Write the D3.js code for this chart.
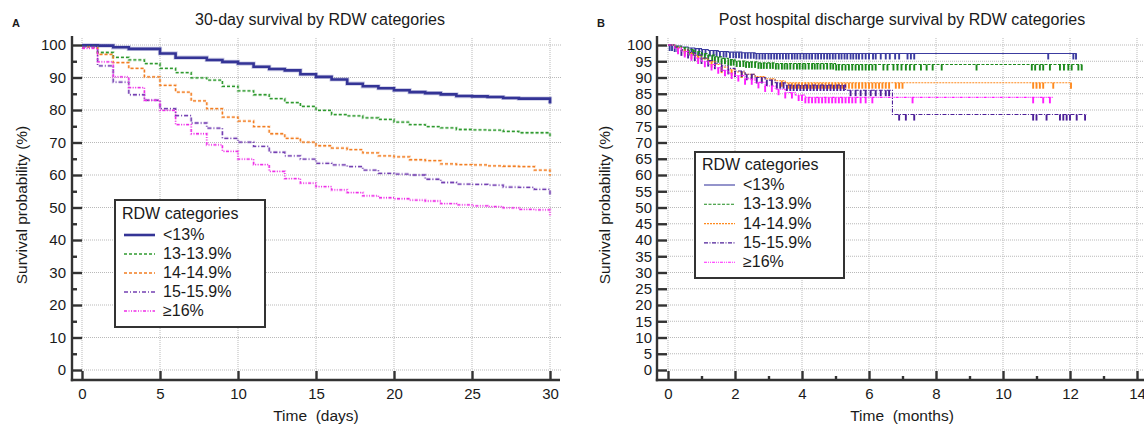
<!DOCTYPE html>
<html><head><meta charset="utf-8">
<script src="https://cdn.jsdelivr.net/npm/d3@7"></script>
<style>
html,body{margin:0;padding:0;background:#fff;}
svg{display:block;font-family:"Liberation Sans",Arial,sans-serif;}
</style></head><body>
<svg id="c" width="1144" height="424"></svg>
<script>
// ---------- DATA ----------
const seriesNames = ["<13%", "13-13.9%", "14-14.9%", "15-15.9%", "\u226516%"];

// Panel A: 30-day survival (%), value holding from day i to day i+1; last entry = value at day 30
const daysA = [0,1,2,3,4,5,6,7,8,9,10,11,12,13,14,15,16,17,18,19,20,21,22,23,24,25,26,27,28,29,30];
const survA_lt13   = [99.9,99.8,99.3,98.8,98.8,97.4,96.1,96.1,95.4,94.8,94.3,93.3,92.6,92.2,91.0,90.2,89.4,88.1,87.3,86.7,86.1,85.5,85.2,84.8,84.3,84.2,84.0,83.7,83.5,83.5,82.0];
const survA_13     = [99.6,97.7,96.2,95.4,94.3,92.8,91.5,89.9,89.2,87.3,85.9,84.7,83.5,82.3,81.1,79.9,78.6,78.2,77.6,77.1,76.3,75.5,74.9,74.5,74.0,73.9,73.8,73.4,73.0,73.0,71.3];
const survA_14     = [99.4,97.1,94.6,92.8,90.2,87.6,85.5,82.8,80.4,77.8,76.6,74.9,72.7,71.3,70.1,69.0,68.3,67.8,66.8,65.9,65.6,64.7,64.4,63.4,63.2,63.1,62.8,62.7,62.6,61.5,59.8];
const survA_15     = [99.5,93.6,88.6,84.7,83.0,80.4,78.3,76.0,74.4,71.3,70.1,68.8,67.0,65.9,64.9,63.6,63.1,62.6,61.5,60.5,60.3,60.0,58.7,57.7,57.2,57.1,56.9,56.3,56.2,55.6,53.9];
const survA_16     = [99.0,94.8,90.2,86.9,83.0,79.9,75.5,72.7,69.3,67.3,64.9,63.2,61.1,58.9,57.5,56.4,55.4,54.6,53.6,53.0,52.7,52.3,52.0,51.2,50.8,50.5,50.3,49.9,49.4,49.3,47.6];
const xTicksA = [0,5,10,15,20,25,30];
const yTicksA = [0,10,20,30,40,50,60,70,80,90,100];
const yMinorA = [5,15,25,35,45,55,65,75,85,95];

// Panel B: post-discharge survival, step points [month, %], end time, censored times (months)
const stepsB_lt13 = [[0,100],[0.2,99.7],[0.4,99.4],[0.6,99.1],[0.8,98.9],[1.0,98.6],[1.2,98.3],[1.5,98.0],[1.8,97.8],[2.2,97.6],[2.6,97.4]];
const stepsB_13   = [[0,100],[0.2,99.6],[0.4,99.2],[0.6,98.6],[0.8,98.0],[1.0,97.4],[1.2,96.9],[1.4,96.4],[1.6,95.9],[1.8,95.5],[2.0,95.1],[2.3,94.8],[2.7,94.5],[3.2,94.3],[5.0,94.0]];
const stepsB_14   = [[0,100],[0.2,99.3],[0.4,98.5],[0.6,97.6],[0.8,96.7],[1.0,95.8],[1.2,94.9],[1.4,94.0],[1.6,93.2],[1.8,92.4],[2.0,91.7],[2.3,91.0],[2.6,90.3],[2.9,89.6],[3.2,89.0],[3.5,88.4]];
const stepsB_15   = [[0,100],[0.2,99.3],[0.4,98.5],[0.6,97.7],[0.8,96.9],[1.0,96.0],[1.2,95.2],[1.4,94.4],[1.6,93.6],[1.8,92.8],[2.0,92.0],[2.3,91.0],[2.6,90.0],[2.9,89.2],[3.2,88.4],[3.5,87.7],[5.3,86.1],[6.7,78.6]];
const stepsB_16   = [[0,100],[0.2,99.0],[0.4,98.0],[0.6,97.0],[0.8,96.0],[1.0,95.0],[1.2,94.0],[1.4,93.0],[1.6,92.2],[1.8,91.4],[2.0,90.6],[2.3,89.6],[2.6,88.5],[2.9,87.4],[3.2,86.4],[3.5,85.4],[3.8,84.6],[4.1,83.9]];
const endB = [12.2, 12.35, 12.05, 12.5, 11.5];
const censB_lt13 = [0.05,0.12,0.2,0.28,0.7,0.82,0.93,1.02,1.12,1.25,1.36,1.45,1.55,1.66,1.74,1.85,1.95,2.03,2.12,2.2,2.3,2.38,2.47,2.56,2.64,2.73,2.82,2.9,3.0,3.08,3.17,3.25,3.34,3.43,3.52,3.6,3.7,3.78,3.86,3.95,4.05,4.13,4.22,4.3,4.4,4.48,4.57,4.66,4.75,4.83,4.92,5.0,5.1,5.18,5.27,5.35,5.45,5.53,5.62,5.7,5.8,5.9,6.0,6.12,6.2,6.35,6.5,6.62,6.78,6.9,7.15,7.25,7.35,11.35,12.1,12.18];
const censB_13 = [0.5,0.62,0.75,0.9,1.0,1.1,1.2,1.32,1.4,1.5,1.6,1.7,1.8,1.88,1.96,2.05,2.15,2.25,2.33,2.42,2.5,2.6,2.7,2.78,2.86,2.95,3.05,3.13,3.22,3.3,3.4,3.48,3.56,3.65,3.75,3.85,3.93,4.02,4.1,4.2,4.3,4.38,4.46,4.55,4.65,4.75,4.85,4.93,5.02,5.1,5.2,5.3,5.4,5.5,5.6,5.7,5.8,5.9,6.0,6.1,6.2,6.43,6.55,6.73,6.85,6.97,7.1,7.22,7.35,7.55,7.72,7.9,8.17,9.21,10.86,10.96,11.1,11.2,11.4,11.7,11.82,11.95,12.05,12.25,12.35];
const censB_14 = [0.3,0.5,0.7,0.9,1.3,1.6,1.9,2.2,2.5,2.8,3.1,3.4,3.6,3.7,3.8,3.9,4.0,4.1,4.2,4.3,4.4,4.5,4.6,4.7,4.8,4.9,5.0,5.1,5.2,5.3,5.4,5.5,5.6,5.7,5.8,5.9,6.0,6.1,6.2,6.3,6.4,6.5,6.6,6.8,6.9,7.0,10.9,11.0,11.1,11.2,11.5,12.03];
const censB_15 = [0.4,0.6,0.8,1.0,1.2,1.4,1.6,1.8,2.0,2.2,2.35,2.5,2.65,2.8,2.95,3.1,3.25,3.35,3.45,3.55,3.65,3.75,3.85,3.95,4.05,4.15,4.25,4.35,4.45,4.55,4.65,4.75,4.85,4.95,5.05,5.15,5.25,5.45,5.6,5.75,5.9,6.05,6.2,6.35,6.5,6.6,6.9,7.1,7.35,10.9,11.0,11.3,11.7,11.8,11.9,12.0,12.2,12.45];
const censB_16 = [0.3,0.5,0.7,0.9,1.1,1.3,1.5,1.7,1.9,2.1,2.3,2.5,2.7,2.9,3.1,3.3,3.5,3.7,3.9,4.0,4.1,4.2,4.3,4.4,4.5,4.6,4.7,4.8,4.9,5.0,5.1,5.2,5.3,5.4,5.5,5.6,5.75,5.9,6.1,7.3,10.9,11.2,11.4];
const xTicksB = [0,2,4,6,8,10,12,14];
const xMinorB = [1,3,5,7,9,11,13];
const yTicksB = [0,5,10,15,20,25,30,35,40,45,50,55,60,65,70,75,80,85,90,95,100];

// ---------- STYLES ----------
const colA = ["#343496","#2f9a2f","#f27e22","#7440b2","#ee2ee8"];
const widA = [2.6,1.3,1.3,1.3,1.3];
const dashA = [null,"3,2","3,2","4,2,1,2","3,1.5,1,1.5,1,1.5"];
const colB = ["#3c3ca0","#1c8a1c","#ff8a1e","#4d1f98","#ff1eff"];
const dashB = [null,"3,1.5","2,1","4,1.5,1,1.5","3,1,1,1,1,1"];
const AX = "#333";
const TXT = "#1a1a1a";

const svg = d3.select("#c");

function styleAxis(g){
  g.select(".domain").remove();
  g.attr("font-family", null).attr("font-size", null);
  g.selectAll(".tick line").attr("stroke", AX).attr("stroke-width", 2.4);
  g.selectAll(".tick text").attr("fill", TXT).style("font-size","15px");
}

// ================= PANEL A =================
const xA = d3.scaleLinear().domain([0,30]).range([82,550]);
const yA = d3.scaleLinear().domain([0,100]).range([370,45]);
const gA = svg.append("g");

gA.append("g").selectAll("line").data(yTicksA).join("line")
  .attr("x1", xA(0)).attr("x2", 561).attr("y1", d=>yA(d)).attr("y2", d=>yA(d))
  .attr("stroke","#b9b9b9").attr("stroke-dasharray","1,1");
gA.append("g").selectAll("line").data(xTicksA).join("line")
  .attr("x1", d=>xA(d)).attr("x2", d=>xA(d)).attr("y1", 38).attr("y2", yA(0))
  .attr("stroke","#b9b9b9").attr("stroke-dasharray","1,1");

const survA = [survA_lt13, survA_13, survA_14, survA_15, survA_16];
const lineA = d3.line().x((d,i)=>xA(daysA[i])).y(d=>yA(d)).curve(d3.curveStepAfter);
survA.forEach((s,k)=>{
  gA.append("path").attr("d", lineA(s)).attr("fill","none")
    .attr("stroke", colA[k]).attr("stroke-opacity",0.25).attr("stroke-width", widA[k]+1.6)
    .attr("stroke-dasharray", dashA[k]);
});
survA.forEach((s,k)=>{
  gA.append("path").attr("d", lineA(s)).attr("fill","none")
    .attr("stroke", colA[k]).attr("stroke-width", widA[k])
    .attr("stroke-dasharray", dashA[k]);
});

gA.append("g").attr("transform","translate(72,0)")
  .call(d3.axisLeft(yA).tickValues(yTicksA).tickSize(-10).tickSizeOuter(0).tickPadding(6))
  .call(styleAxis);
gA.append("g").attr("transform","translate(72,0)")
  .call(d3.axisLeft(yA).tickValues(yMinorA).tickSize(-5).tickSizeOuter(0).tickFormat(""))
  .call(styleAxis);
gA.append("g").attr("transform","translate(0,380)")
  .call(d3.axisBottom(xA).tickValues(xTicksA).tickSize(-9).tickSizeOuter(0).tickPadding(8))
  .call(styleAxis);
gA.append("line").attr("x1",72).attr("x2",72).attr("y1",36).attr("y2",381.2).attr("stroke",AX).attr("stroke-width",2.4);
gA.append("line").attr("x1",70.8).attr("x2",560).attr("y1",380).attr("y2",380).attr("stroke",AX).attr("stroke-width",2.4);

gA.append("text").attr("x",320).attr("y",25).attr("text-anchor","middle").style("font-size","16px").attr("fill",TXT)
  .text("30-day survival by RDW categories");
gA.append("text").attr("x",12).attr("y",27).style("font-size","11px").style("font-weight","bold").attr("fill",TXT).text("A");
gA.append("text").attr("transform","translate(27,205) rotate(-90)").attr("text-anchor","middle")
  .style("font-size","15.5px").attr("fill",TXT).text("Survival probability (%)");
gA.append("text").attr("x",316).attr("y",421).attr("text-anchor","middle").style("font-size","15.5px")
  .style("white-space","pre").attr("fill",TXT).text("Time  (days)");

// legend A
const lgA = gA.append("g").attr("transform","translate(115,200)");
lgA.append("rect").attr("x",0).attr("y",0).attr("width",150).attr("height",127)
  .attr("fill","#fff").attr("stroke",AX).attr("stroke-width",2);
lgA.append("text").attr("x",7).attr("y",19).style("font-size","16px").attr("fill",TXT).text("RDW categories");
seriesNames.forEach((n,k)=>{
  const yy = 40 + k*19;
  lgA.append("line").attr("x1",9).attr("x2",40).attr("y1",yy-5).attr("y2",yy-5)
    .attr("stroke",colA[k]).attr("stroke-width",widA[k]).attr("stroke-dasharray",dashA[k]);
  lgA.append("text").attr("x",48).attr("y",yy).style("font-size","16px").attr("fill",TXT).text(n);
});

// ================= PANEL B =================
const xB = d3.scaleLinear().domain([0,14]).range([668,1137]);
const yB = d3.scaleLinear().domain([0,100]).range([370,45]);
const gB = svg.append("g");

gB.append("g").selectAll("line").data(yTicksB).join("line")
  .attr("x1", xB(0)).attr("x2", 1144).attr("y1", d=>yB(d)).attr("y2", d=>yB(d))
  .attr("stroke","#b9b9b9").attr("stroke-dasharray","1,1");
gB.append("g").selectAll("line").data(xTicksB).join("line")
  .attr("x1", d=>xB(d)).attr("x2", d=>xB(d)).attr("y1", 38).attr("y2", yB(0))
  .attr("stroke","#b9b9b9").attr("stroke-dasharray","1,1");

const stepsB = [stepsB_lt13, stepsB_13, stepsB_14, stepsB_15, stepsB_16];
const censB = [censB_lt13, censB_13, censB_14, censB_15, censB_16];
const lineB = d3.line().x(d=>xB(d[0])).y(d=>yB(d[1])).curve(d3.curveStepAfter);
function survAt(steps, t){
  let v = steps[0][1];
  for (const s of steps){ if (s[0] <= t) v = s[1]; }
  return v;
}
stepsB.forEach((st,k)=>{
  const pts = st.concat([[endB[k], st[st.length-1][1]]]);
  gB.append("path").attr("d", lineB(pts)).attr("fill","none")
    .attr("stroke", colB[k]).attr("stroke-width", 1.1).attr("stroke-dasharray", dashB[k]);
  gB.append("g").selectAll("line").data(censB[k]).join("line")
    .attr("x1", d=>xB(d)).attr("x2", d=>xB(d))
    .attr("y1", d=>yB(survAt(st,d))).attr("y2", d=>yB(survAt(st,d))+6)
    .attr("stroke", colB[k]).attr("stroke-width", 1.9);
});

gB.append("g").attr("transform","translate(657,0)")
  .call(d3.axisLeft(yB).tickValues(yTicksB).tickSize(-10).tickSizeOuter(0).tickPadding(5))
  .call(styleAxis);
gB.append("g").attr("transform","translate(0,380)")
  .call(d3.axisBottom(xB).tickValues(xTicksB).tickSize(-9).tickSizeOuter(0).tickPadding(8))
  .call(styleAxis);
gB.append("g").attr("transform","translate(0,380)")
  .call(d3.axisBottom(xB).tickValues(xMinorB).tickSize(-4).tickSizeOuter(0).tickFormat(""))
  .call(styleAxis);
gB.append("line").attr("x1",657).attr("x2",657).attr("y1",36).attr("y2",381.2).attr("stroke",AX).attr("stroke-width",2.4);
gB.append("line").attr("x1",655.8).attr("x2",1144).attr("y1",380).attr("y2",380).attr("stroke",AX).attr("stroke-width",2.4);

gB.append("text").attr("x",902).attr("y",25).attr("text-anchor","middle").style("font-size","16px").attr("fill",TXT)
  .text("Post hospital discharge survival by RDW categories");
gB.append("text").attr("x",597).attr("y",27).style("font-size","11px").style("font-weight","bold").attr("fill",TXT).text("B");
gB.append("text").attr("transform","translate(610,205) rotate(-90)").attr("text-anchor","middle")
  .style("font-size","15.5px").attr("fill",TXT).text("Survival probability (%)");
gB.append("text").attr("x",902).attr("y",421).attr("text-anchor","middle").style("font-size","15.5px")
  .style("white-space","pre").attr("fill",TXT).text("Time  (months)");

const lgB = gB.append("g").attr("transform","translate(695,152)");
lgB.append("rect").attr("x",0).attr("y",0).attr("width",149).attr("height",126)
  .attr("fill","#fff").attr("stroke",AX).attr("stroke-width",2);
lgB.append("text").attr("x",7).attr("y",18).style("font-size","16px").attr("fill",TXT).text("RDW categories");
seriesNames.forEach((n,k)=>{
  const yy = 38 + k*19.3;
  lgB.append("line").attr("x1",9).attr("x2",40).attr("y1",yy-5).attr("y2",yy-5)
    .attr("stroke",colB[k]).attr("stroke-width",1.1).attr("stroke-dasharray",dashB[k]);
  lgB.append("text").attr("x",48).attr("y",yy).style("font-size","16px").attr("fill",TXT).text(n);
});
</script></body></html>
